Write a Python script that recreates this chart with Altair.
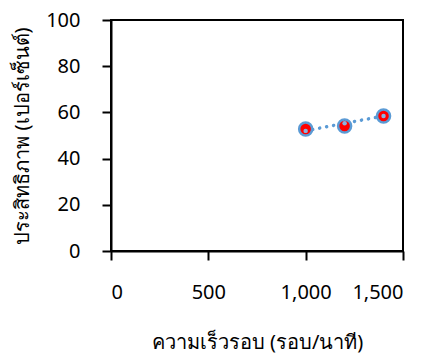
import altair as alt
import pandas as pd

speed = [1000, 1200, 1400]
eff_main = [52.8, 54.1, 58.4]
eff_trend = [52.0, 55.3, 58.4]

df = pd.DataFrame({"speed": speed, "eff": eff_main, "trend": eff_trend})

FONT = "Noto Sans"

xaxis = alt.Axis(values=[0, 500, 1000, 1500], labelExpr="format(datum.value, ',')",
                 title="ความเร็วรอบ (รอบ/นาที)", labelPadding=22, titlePadding=30)
yaxis = alt.Axis(values=[0, 20, 40, 60, 80, 100], title="ประสิทธิภาพ (เปอร์เซ็นต์)",
                 labelPadding=22, titleX=-89, titleY=115.5, titleBaseline="middle",
                 titleAngle=270)
xs = alt.Scale(domain=[0, 1500], nice=False)
ys = alt.Scale(domain=[0, 100], nice=False)

x = alt.X("speed:Q", scale=xs, axis=xaxis)
y = alt.Y("eff:Q", scale=ys, axis=yaxis)
y2 = alt.Y("trend:Q", scale=ys, axis=yaxis)

line = alt.Chart(df).mark_line(color="#5b9bd5", strokeWidth=3.5, strokeDash=[0.1, 7],
                               strokeCap="round").encode(x=x, y=y2)
big = alt.Chart(df).mark_point(filled=True, shape="circle", size=170, color="#ff0000",
                               stroke="#5b9bd5", strokeWidth=2.5, opacity=1).encode(x=x, y=y)
small = alt.Chart(df).mark_point(filled=True, shape="circle", size=20, color="#8ab4e0",
                                 opacity=1).encode(x=x, y=y2)

chart = alt.layer(line, big, small).properties(
    width=292, height=231,
    autosize=alt.AutoSizeParams(type="none"),
    padding={"left": 103, "top": 12, "right": 18, "bottom": 104},
).configure(background="white").configure_view(stroke="black", strokeWidth=2).configure_axis(
    grid=False, domainColor="black", domainWidth=2, tickColor="black", tickWidth=2,
    tickSize=9, labelFont=FONT, titleFont=FONT, labelFontSize=20, titleFontSize=20,
    labelColor="black", titleColor="black", titleFontWeight="normal",
)

chart.save("out.html", embed_options={"renderer": "svg", "actions": False})
